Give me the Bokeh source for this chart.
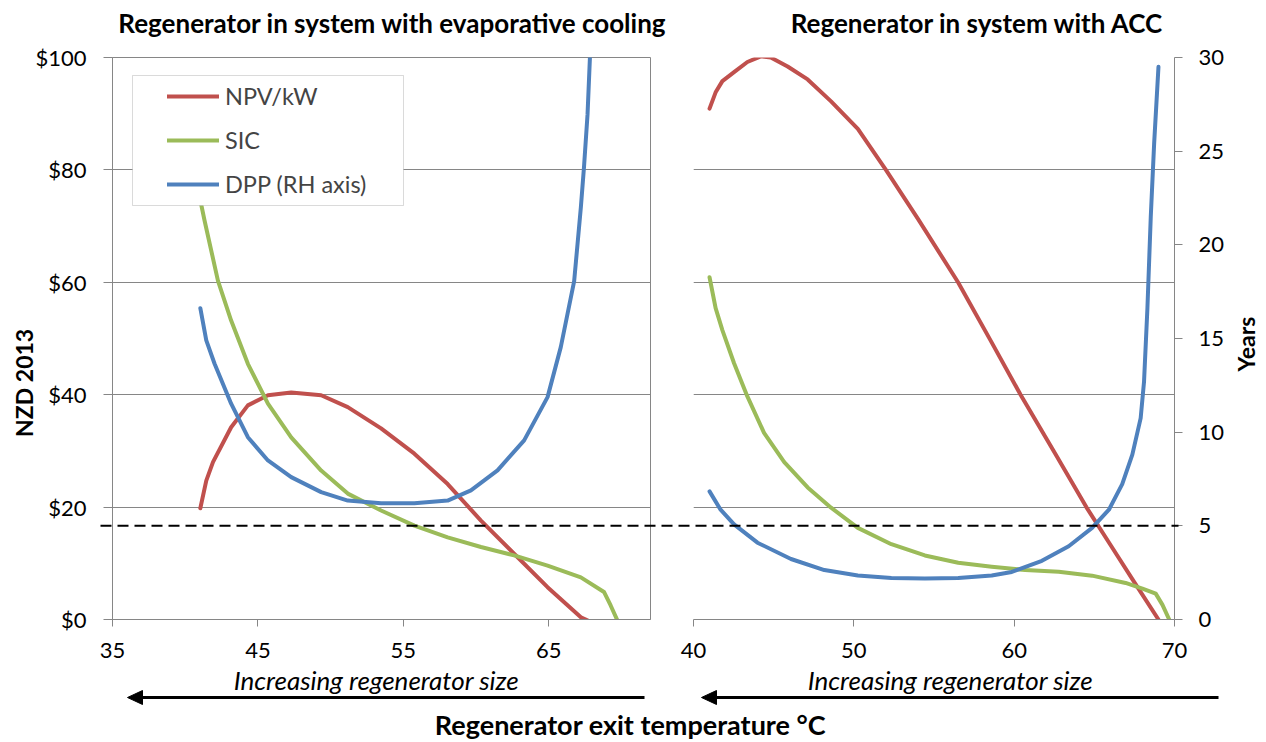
import math
from bokeh.plotting import figure
from bokeh.models import (Range1d, LinearAxis, FixedTicker, NumeralTickFormatter, Grid,
                          Legend, LegendItem, BoxAnnotation)
from bokeh.layouts import row, column
from bokeh.embed import file_html
from bokeh.resources import INLINE
from bokeh.core.properties import value

FONT = "Lato"
RED, GREEN, BLUE = "#C0504D", "#9BBB59", "#4F81BD"
GREY = "#868686"

# ---------------- data ----------------
# Left panel: regenerator in system with evaporative cooling
evap_npv_t = [41.04, 41.45, 41.91, 43.16, 44.31, 45.69, 47.29, 49.35, 51.18, 53.47, 55.76,
              58.05, 60.34, 62.62, 64.92, 67.21, 68.12]
evap_npv = [19.8, 24.7, 28.0, 34.2, 38.1, 39.9, 40.4, 39.9, 37.8, 34.0, 29.5,
            24.1, 17.6, 11.7, 5.75, 0.4, -0.7]
evap_sic_t = [41.04, 41.33, 42.25, 43.16, 44.31, 45.69, 47.29, 49.35, 51.18, 53.47, 55.76,
              58.05, 60.34, 62.62, 64.92, 67.21, 68.8, 69.26, 69.73]
evap_sic = [74.6, 71.0, 60.3, 53.2, 45.5, 38.4, 32.4, 26.5, 22.4, 19.4, 16.7,
            14.6, 12.9, 11.4, 9.6, 7.5, 4.9, 2.5, -0.2]
evap_dpp_t = [41.04, 41.45, 42.02, 43.16, 44.31, 45.69, 47.29, 49.35, 51.18, 53.47, 55.76,
              58.05, 59.65, 61.48, 63.31, 64.92, 65.83, 66.75, 67.21, 67.43, 67.67, 67.84]
evap_dpp = [16.62, 14.9, 13.65, 11.52, 9.73, 8.49, 7.6, 6.8, 6.35, 6.21, 6.21,
            6.35, 6.89, 7.96, 9.56, 11.87, 14.54, 18.06, 22.0, 24.19, 26.96, 30.1]

# Right panel: regenerator in system with ACC
acc_npv_t = [41.0, 41.38, 41.8, 42.53, 43.36, 44.2, 44.82, 45.87, 47.12, 48.58, 50.25,
             52.0, 54.0, 56.5, 58.5, 60.4, 62.5, 64.5, 66.0, 67.5, 69.0]
acc_npv = [90.9, 93.8, 95.8, 97.4, 99.2, 100.2, 100.0, 98.4, 96.1, 92.2, 87.3,
           80.0, 71.3, 60.0, 49.8, 40.0, 29.8, 20.0, 13.3, 6.6, 0.0]
acc_sic_t = [41.0, 41.38, 41.8, 42.53, 43.36, 44.4, 45.66, 47.12, 48.58, 50.25, 52.34,
             54.43, 56.51, 58.6, 60.69, 62.78, 64.86, 66.95, 68.0, 68.83, 69.25, 69.67]
acc_sic = [60.9, 55.4, 51.5, 45.6, 39.7, 33.2, 28.0, 23.5, 19.9, 16.3, 13.4,
           11.4, 10.1, 9.4, 8.8, 8.5, 7.8, 6.5, 5.5, 4.6, 2.6, 0.0]
acc_dpp_t = [41.0, 41.69, 42.53, 43.99, 46.08, 48.16, 50.25, 52.34, 54.43, 56.51, 58.6,
             59.85, 61.73, 63.4, 64.86, 65.91, 66.74, 67.37, 67.89, 68.1, 68.31, 68.52,
             68.73, 69.0]
acc_dpp = [6.84, 5.86, 5.08, 4.1, 3.23, 2.64, 2.35, 2.21, 2.19, 2.21, 2.35,
           2.54, 3.13, 3.91, 4.89, 5.86, 7.23, 8.8, 10.75, 12.7, 16.6, 21.5,
           25.4, 29.5]

dpp_target_years = 5
dollar_ticks = [0, 20, 40, 60, 80, 100]
year_ticks = [0, 5, 10, 15, 20, 25, 30]
evap_x_ticks = [35, 45, 55, 65]
acc_x_ticks = [40, 50, 60, 70]
series_names = ["NPV/kW", "SIC", "DPP (RH axis)"]
panel_titles = ["Regenerator in system with evaporative cooling", "Regenerator in system with ACC"]
y_titles = ["NZD 2013", "Years"]
x_title = "Regenerator exit temperature °C"
x_note = "Increasing regenerator size"

# ---------------- geometry ----------------
TOP, FRAME_H, BOTTOM = 57, 562, 87
L_BL, L_FW, L_BR = 112, 538, 28
R_BL, R_FW, R_BR = 15, 481, 92
PPD = FRAME_H / 100          # pixels per dollar


def style_axis(ax, tick_out=7):
    ax.axis_line_color = GREY
    ax.major_tick_line_color = GREY
    ax.minor_tick_line_color = None
    ax.major_tick_out = tick_out
    ax.major_tick_in = 0
    ax.major_label_text_font = FONT
    ax.major_label_text_font_size = "22px"
    ax.major_label_text_color = "black"


line_kw = dict(line_width=4, line_cap="round", line_join="round")
text_kw = dict(text_align="center", text_baseline="middle", text_font=value(FONT),
               text_color="black", level="overlay")
dash_kw = dict(line_color="black", line_width=2, line_dash="11 6", level="overlay",
               y_range_name="yrs")


def add_size_arrow(p, ppu, x0_range, tail_px, tip_px, note_px):
    """Italic note and left-pointing arrow under the axis (pixel offsets from frame left)."""
    p.text(x=[x0_range + note_px / ppu], y=[-60 / PPD], text=[x_note],
           text_font_style="italic", text_font_size="26px", **text_kw)
    ya = -78 / PPD
    head_len, head_half = 15, 7
    p.segment(x0=[x0_range + tail_px / ppu], x1=[x0_range + (tip_px + head_len - 1) / ppu],
              y0=[ya], y1=[ya], line_color="black", line_width=3, level="overlay")
    p.patch(x=[x0_range + tip_px / ppu, x0_range + (tip_px + head_len) / ppu,
               x0_range + (tip_px + head_len) / ppu],
            y=[ya, ya + head_half / PPD, ya - head_half / PPD],
            fill_color="black", line_color="black", line_width=1, level="overlay")


# ---------------- left panel ----------------
lx = Range1d(35, 72)
left = figure(width=L_BL + L_FW + L_BR, height=TOP + FRAME_H + BOTTOM,
              x_range=lx, y_range=Range1d(0, 100),
              output_backend="svg", toolbar_location=None,
              min_border_left=L_BL, min_border_right=L_BR,
              min_border_top=TOP, min_border_bottom=BOTTOM)
left.extra_y_ranges = {"yrs": Range1d(0, 30)}
left.xaxis.ticker = FixedTicker(ticks=evap_x_ticks)
left.yaxis.ticker = FixedTicker(ticks=dollar_ticks)
left.yaxis.formatter = NumeralTickFormatter(format="$0")
style_axis(left.xaxis[0], 7)
style_axis(left.yaxis[0], 9)
left.yaxis.major_label_standoff = 17
left.xaxis.major_label_standoff = 16
left.xgrid.visible = False
left.ygrid.ticker = FixedTicker(ticks=dollar_ticks[1:])
left.ygrid.grid_line_color = GREY
left.outline_line_color = GREY
left.background_fill_color = "white"
left.border_fill_color = "white"

l_npv = left.line(evap_npv_t, evap_npv, color=RED, **line_kw)
l_sic = left.line(evap_sic_t, evap_sic, color=GREEN, **line_kw)
l_dpp = left.line(evap_dpp_t, evap_dpp, color=BLUE, y_range_name="yrs", **line_kw)

lppu = L_FW / (lx.end - lx.start)
left.segment(x0=[lx.start - 12 / lppu], x1=[lx.end + L_BR / lppu],
             y0=[dpp_target_years], y1=[dpp_target_years], **dash_kw)

# legend frame + legend
box = BoxAnnotation(left=lx.start + 20 / lppu, right=lx.start + 291 / lppu,
                    top=100 - 18 / PPD, bottom=100 - 148 / PPD,
                    fill_color="white", fill_alpha=1.0, line_color=GREY, line_width=1)
left.add_layout(box)
legend = Legend(items=[LegendItem(label=series_names[0], renderers=[l_npv]),
                       LegendItem(label=series_names[1], renderers=[l_sic]),
                       LegendItem(label=series_names[2], renderers=[l_dpp])],
                location=(55, 420), padding=0, spacing=14, margin=0,
                glyph_width=52, glyph_height=30, label_height=30, label_standoff=6,
                label_text_font=FONT, label_text_font_size="23.5px",
                background_fill_alpha=0, border_line_alpha=0)
left.add_layout(legend)

left.text(x=[lx.start - 89 / lppu], y=[42.1], text=[y_titles[0]], angle=math.pi / 2,
          text_font_style="bold", text_font_size="23px", **text_kw)
left.text(x=[lx.start + 280 / lppu], y=[100 + 35 / PPD], text=[panel_titles[0]],
          text_font_style="bold", text_font_size="26px", **text_kw)
add_size_arrow(left, lppu, lx.start, 532, 15, 264)

# ---------------- right panel ----------------
rx = Range1d(40, 70)
right = figure(width=R_BL + R_FW + R_BR, height=TOP + FRAME_H + BOTTOM,
               x_range=rx, y_range=Range1d(0, 100),
               output_backend="svg", toolbar_location=None, y_axis_location=None,
               min_border_left=R_BL, min_border_right=R_BR,
               min_border_top=TOP, min_border_bottom=BOTTOM)
right.extra_y_ranges = {"yrs": Range1d(0, 30)}
yax = LinearAxis(y_range_name="yrs", ticker=FixedTicker(ticks=year_ticks))
right.add_layout(yax, "right")
right.xaxis.ticker = FixedTicker(ticks=acc_x_ticks)
style_axis(right.xaxis[0], 7)
style_axis(yax, 8)
yax.major_label_standoff = 16
right.xaxis.major_label_standoff = 16
right.xgrid.visible = False
right.add_layout(Grid(dimension=1, ticker=FixedTicker(ticks=dollar_ticks[1:]),
                      grid_line_color=GREY))
right.outline_line_color = None
right.background_fill_color = "white"
right.border_fill_color = "white"

right.line(acc_npv_t, acc_npv, color=RED, **line_kw)
right.line(acc_sic_t, acc_sic, color=GREEN, **line_kw)
right.line(acc_dpp_t, acc_dpp, color=BLUE, y_range_name="yrs", **line_kw)

rppu = R_FW / (rx.end - rx.start)
right.segment(x0=[rx.start - R_BL / rppu], x1=[rx.end + 4 / rppu],
              y0=[dpp_target_years], y1=[dpp_target_years], **dash_kw)

right.text(x=[rx.start + 552 / rppu], y=[49], text=[y_titles[1]], angle=math.pi / 2,
           text_font_style="bold", text_font_size="23px", **text_kw)
right.text(x=[rx.start + 284 / rppu], y=[100 + 35 / PPD], text=[panel_titles[1]],
           text_font_style="bold", text_font_size="26px", **text_kw)
add_size_arrow(right, rppu, rx.start, 525, 8, 257)

# ---------------- bottom strip: shared x-axis title ----------------
W = L_BL + L_FW + L_BR + R_BL + R_FW + R_BR
BH = 35
bot = figure(width=W, height=BH, x_range=Range1d(0, W), y_range=Range1d(BH, 0),
             output_backend="svg", toolbar_location=None, min_border=0,
             x_axis_location=None, y_axis_location=None)
bot.xgrid.visible = False
bot.ygrid.visible = False
bot.outline_line_color = None
bot.background_fill_color = "white"
bot.border_fill_color = "white"
bot.text(x=[630], y=[18], text=[x_title],
         text_font_style="bold", text_font_size="27px", **text_kw)

layout = column(row(left, right), bot)
open("out.html", "w").write(file_html(layout, INLINE))
